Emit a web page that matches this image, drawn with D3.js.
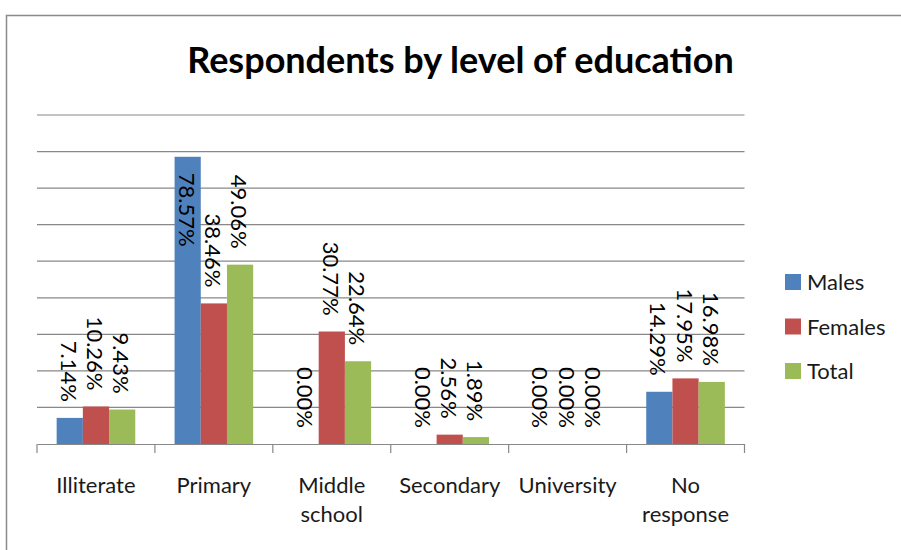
<!DOCTYPE html>
<html>
<head>
<meta charset="utf-8">
<script src="https://cdn.jsdelivr.net/npm/d3@7/dist/d3.min.js"></script>
<style>
  html, body { margin: 0; padding: 0; background: #fff; }
  svg { display: block; }
  text { font-family: Lato, "Noto Sans", sans-serif; }
</style>
</head>
<body>
<svg id="chart" width="901" height="550"></svg>
<script>
// ---- data ----
const title = "Respondents by level of education";
const categories = ["Illiterate", "Primary", "Middle school", "Secondary", "University", "No response"];
const categoryLines = [["Illiterate"], ["Primary"], ["Middle", "school"], ["Secondary"], ["University"], ["No", "response"]];
const seriesNames = ["Males", "Females", "Total"];
const males   = [7.14, 78.57, 0.00, 0.00, 0.00, 14.29];
const females = [10.26, 38.46, 30.77, 2.56, 0.00, 17.95];
const total   = [9.43, 49.06, 22.64, 1.89, 0.00, 16.98];
const seriesValues = [males, females, total];
const yTicks = [0, 10, 20, 30, 40, 50, 60, 70, 80, 90];
const colors = ["#4F81BD", "#C0504D", "#9BBB59"];

// ---- layout ----
const svg = d3.select("#chart");
const plot = { left: 37, right: 744.5, top: 115, bottom: 444 };

// border
svg.append("path")
  .attr("d", "M6.5,550 V15.5 H901")
  .attr("fill", "none").attr("stroke", "#8a8a8a").attr("stroke-width", 1.5);

// title
svg.append("text")
  .attr("x", 460.5).attr("y", 73)
  .attr("text-anchor", "middle")
  .attr("font-size", 36).attr("font-weight", "bold")
  .attr("fill", "#000")
  .text(title);

const x = d3.scaleBand().domain(categories).range([plot.left, plot.right]).padding(0);
const bw = x.bandwidth();
const xs = d3.scaleBand().domain(seriesNames).range([bw / 6, bw * 5 / 6]).padding(0);
const y = d3.scaleLinear().domain([0, 90]).range([plot.bottom, plot.top]);

// gridlines
svg.append("g")
  .selectAll("line").data(yTicks.filter(d => d > 0)).join("line")
  .attr("x1", plot.left).attr("x2", plot.right)
  .attr("y1", d => y(d)).attr("y2", d => y(d))
  .attr("stroke", "#888").attr("stroke-width", 1.2);

// bars
const groups = svg.append("g").selectAll("g").data(categories).join("g")
  .attr("transform", d => `translate(${x(d)},0)`);

groups.each(function(cat, ci) {
  const g = d3.select(this);
  seriesNames.forEach((s, si) => {
    const v = seriesValues[si][ci];
    g.append("rect")
      .attr("x", xs(s)).attr("width", xs.bandwidth())
      .attr("y", y(v)).attr("height", y(0) - y(v))
      .attr("fill", colors[si]);
  });
});

// x axis
const xAxis = d3.axisBottom(x).tickSize(0).tickFormat("");
const axG = svg.append("g").attr("transform", `translate(0,${plot.bottom})`).call(xAxis);
axG.select(".domain").attr("stroke", "#888").attr("stroke-width", 1.2);
const boundaries = categories.map(c => x(c)).concat([plot.right]);
axG.selectAll(".bnd").data(boundaries).join("line").attr("class", "bnd")
  .attr("x1", d => d).attr("x2", d => d).attr("y1", 0).attr("y2", 9)
  .attr("stroke", "#888").attr("stroke-width", 1.2);

// category labels
svg.append("g").selectAll("text").data(categories).join("text")
  .attr("text-anchor", "middle").attr("font-size", 22).attr("fill", "#1a1a1a")
  .each(function(c, i) {
    const t = d3.select(this);
    categoryLines[i].forEach((ln, li) => {
      t.append("tspan").attr("x", x(c) + bw / 2).attr("y", 493 + li * 29).text(ln);
    });
  });

// data labels (rotated 90deg clockwise, outside end)
const gap = 16;
groups.each(function(cat, ci) {
  const g = d3.select(this);
  seriesNames.forEach((s, si) => {
    const v = seriesValues[si][ci];
    const cx = xs(s) + xs.bandwidth() / 2 - 1;
    const top = y(v);
    const lg = g.append("g");
    const t = lg.append("text")
      .attr("font-size", 22).attr("fill", "#000")
      .attr("dy", "0.36em")
      .text(d3.format(".2f")(v) + "%");
    const len = t.node().getComputedTextLength();
    if (top - gap - len < plot.top) {
      lg.attr("transform", `translate(${cx},${top + gap}) rotate(90)`);
      t.attr("text-anchor", "start");
    } else {
      lg.attr("transform", `translate(${cx},${top - gap}) rotate(90)`);
      t.attr("text-anchor", "end");
    }
  });
});

// legend
const legend = svg.append("g").selectAll("g").data(seriesNames).join("g")
  .attr("transform", (d, i) => `translate(785,${290 + i * 44.5})`);
legend.append("rect").attr("x", 0).attr("y", -16).attr("width", 16).attr("height", 16)
  .attr("fill", (d, i) => colors[i]);
legend.append("text").attr("x", 22).attr("y", 0).attr("font-size", 22).attr("fill", "#1a1a1a")
  .text(d => d);
</script>
</body>
</html>
